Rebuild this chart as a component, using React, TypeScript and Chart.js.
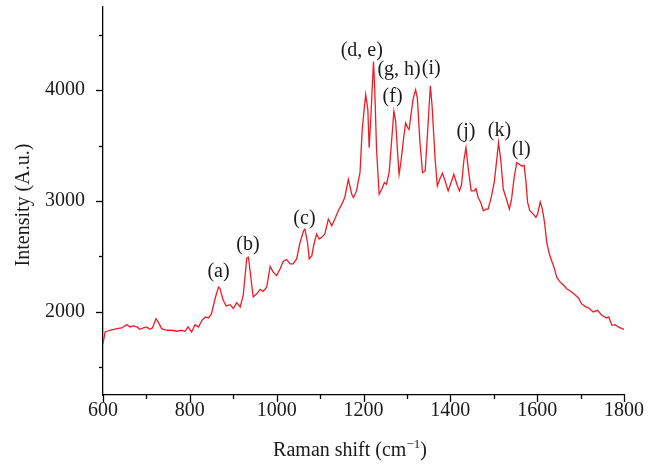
import React, { useEffect, useRef } from "react";
import { Chart, registerables } from "chart.js";

Chart.register(...registerables);

// Raman shift (cm^-1)
const ramanShift = [
  600, 605, 616, 632, 643, 655, 662, 670, 678, 685, 693, 701, 707, 714, 722, 727, 735, 747, 758, 770,
  781, 789, 796, 804, 812, 820, 828, 836, 843, 850, 858, 866, 869, 877, 884, 893, 900, 908, 916, 923,
  931, 935, 940, 946, 954, 962, 969, 977, 985, 992, 1000, 1008, 1015, 1023, 1031, 1038, 1046, 1054, 1062, 1065,
  1071, 1075, 1081, 1086, 1092, 1098, 1104, 1111, 1119, 1127, 1134, 1142, 1150, 1157, 1165, 1173, 1177, 1184, 1188, 1192,
  1197, 1205, 1210, 1213, 1217, 1223, 1226, 1230, 1236, 1242, 1248, 1253, 1259, 1265, 1270, 1274, 1279, 1282, 1286, 1292,
  1297, 1302, 1305, 1309, 1314, 1320, 1324, 1330, 1336, 1342, 1348, 1354, 1358, 1365, 1370, 1376, 1382, 1388, 1395, 1403,
  1408, 1415, 1421, 1426, 1431, 1436, 1441, 1448, 1455, 1459, 1464, 1470, 1476, 1482, 1487, 1495, 1501, 1507, 1511, 1516,
  1522, 1528, 1536, 1541, 1547, 1553, 1559, 1564, 1570, 1574, 1578, 1583, 1591, 1597, 1601, 1607, 1612, 1617, 1622, 1627,
  1633, 1640, 1645, 1653, 1660, 1668, 1678, 1687, 1695, 1702, 1710, 1719, 1729, 1739, 1749, 1760, 1765, 1772, 1779, 1787,
  1795, 1800,
];

// Intensity (A.u.)
const intensity = [
  1714, 1819, 1834, 1849, 1855, 1885, 1864, 1873, 1864, 1843, 1855, 1864, 1843, 1855, 1939, 1909, 1849, 1834, 1834, 1825,
  1834, 1825, 1864, 1819, 1885, 1864, 1924, 1954, 1945, 1984, 2118, 2223, 2214, 2103, 2053, 2065, 2029, 2083, 2044, 2148,
  2484, 2493, 2328, 2134, 2163, 2202, 2184, 2223, 2410, 2358, 2328, 2388, 2454, 2472, 2433, 2433, 2478, 2628, 2732, 2747,
  2628, 2478, 2507, 2612, 2702, 2657, 2672, 2702, 2837, 2777, 2837, 2912, 2972, 3032, 3196, 3061, 3032, 3091, 3181, 3256,
  3645, 3960, 3825, 3481, 3765, 4259, 4004, 3466, 3061, 3106, 3166, 3151, 3256, 3555, 3810, 3720, 3405, 3241, 3346, 3555,
  3705, 3660, 3645, 3765, 3915, 4004, 3930, 3526, 3256, 3271, 3645, 4040, 3855, 3376, 3136, 3200, 3250, 3181, 3091, 3181,
  3241, 3151, 3091, 3151, 3361, 3481, 3301, 3091, 3091, 3113, 3032, 2987, 2912, 2927, 2927, 3046, 3166, 3376, 3526, 3376,
  3106, 3032, 2927, 3017, 3211, 3346, 3331, 3316, 3322, 3181, 2987, 2912, 2882, 2852, 2882, 2992, 2927, 2807, 2628, 2538,
  2463, 2388, 2313, 2268, 2244, 2208, 2184, 2154, 2125, 2074, 2050, 2035, 1999, 2014, 1969, 1945, 1954, 1879, 1885, 1864,
  1849, 1843,
];

// Peak annotation labels and their anchor (data coordinates)
const peakLabels = ["(a)", "(b)", "(c)", "(d, e)", "(f)", "(g, h)", "(i)", "(j)", "(k)", "(l)"];
const peakLabelX = [866, 934, 1064, 1196, 1267, 1282, 1356, 1436, 1513, 1563];
const peakLabelY = [2365, 2605, 2837, 4359, 3942, 4184, 4193, 3627, 3636, 3461];

// Axis ranges and ticks
const xMin = 600;
const xMax = 1800;
const xTickValues = [600, 700, 800, 900, 1000, 1100, 1200, 1300, 1400, 1500, 1600, 1700, 1800];
const xLabelValues = [600, 800, 1000, 1200, 1400, 1600, 1800];
const yMin = 1250;
const yMax = 4750;
const yTickValues = [1500, 2000, 2500, 3000, 3500, 4000, 4500];
const yLabelValues = [2000, 3000, 4000];

const FONT = '"Liberation Serif", "Times New Roman", serif';
const TEXT = "#1a1a1a";

export default function App() {
  const canvasRef = useRef<HTMLCanvasElement | null>(null);

  useEffect(() => {
    const canvas = canvasRef.current;
    if (!canvas) return;

    const points = ramanShift.map((x, i) => ({ x, y: intensity[i] }));

    const overlay = {
      id: "overlay",
      afterDraw(chart: any) {
        const ctx = chart.ctx as CanvasRenderingContext2D;
        const xs = chart.scales.x;
        const ys = chart.scales.y;
        const area = chart.chartArea;
        ctx.save();
        ctx.strokeStyle = "#000";
        ctx.lineWidth = 1.3;
        xTickValues.forEach((v) => {
          const px = Math.round(xs.getPixelForValue(v)) + 0.5;
          const len = xLabelValues.includes(v) ? 7 : 4;
          ctx.beginPath();
          ctx.moveTo(px, area.bottom);
          ctx.lineTo(px, area.bottom + len);
          ctx.stroke();
        });
        yTickValues.forEach((v) => {
          const py = Math.round(ys.getPixelForValue(v)) + 0.5;
          const len = yLabelValues.includes(v) ? 7 : 4;
          ctx.beginPath();
          ctx.moveTo(area.left - len, py);
          ctx.lineTo(area.left, py);
          ctx.stroke();
        });

        ctx.fillStyle = TEXT;
        // y title
        ctx.save();
        ctx.font = `20px ${FONT}`;
        ctx.translate(24, (area.top + area.bottom) / 2 + 4);
        ctx.rotate(-Math.PI / 2);
        ctx.textAlign = "center";
        ctx.textBaseline = "middle";
        ctx.fillText("Intensity (A.u.)", 0, 0);
        ctx.restore();

        // x title with superscript
        const main = "Raman shift (cm";
        const sup = "\u22121";
        const close = ")";
        ctx.font = `20px ${FONT}`;
        const wMain = ctx.measureText(main).width;
        const wClose = ctx.measureText(close).width;
        ctx.font = `13px ${FONT}`;
        const wSup = ctx.measureText(sup).width;
        const total = wMain + wSup + wClose;
        const cx = 350;
        const baseY = 456;
        const x0 = cx - total / 2;
        ctx.textAlign = "left";
        ctx.textBaseline = "alphabetic";
        ctx.font = `20px ${FONT}`;
        ctx.fillText(main, x0, baseY);
        ctx.font = `13px ${FONT}`;
        ctx.fillText(sup, x0 + wMain, baseY - 8);
        ctx.font = `20px ${FONT}`;
        ctx.fillText(close, x0 + wMain + wSup, baseY);

        // peak labels
        ctx.textAlign = "center";
        ctx.textBaseline = "middle";
        ctx.font = `20px ${FONT}`;
        peakLabels.forEach((lab, i) => {
          ctx.fillText(lab, xs.getPixelForValue(peakLabelX[i]), ys.getPixelForValue(peakLabelY[i]));
        });
        ctx.restore();
      },
    };

    const chart = new Chart(canvas, {
      type: "line",
      data: {
        datasets: [
          {
            data: points,
            borderColor: "#ee1c25",
            borderWidth: 1.3,
            pointRadius: 0,
            tension: 0,
            fill: false,
          },
        ],
      },
      options: {
        animation: false,
        responsive: false,
        devicePixelRatio: 1,
        parsing: false as any,
        layout: { padding: { left: 0, right: 34, top: 7, bottom: 0 } },
        plugins: { legend: { display: false }, tooltip: { enabled: false } },
        scales: {
          x: {
            type: "linear",
            min: xMin,
            max: xMax,
            border: { display: true, color: "#000", width: 1.3 },
            grid: { display: true, drawOnChartArea: false, drawTicks: true, tickLength: 7, color: "rgba(0,0,0,0)" },
            afterBuildTicks: (s: any) => {
              s.ticks = xLabelValues.map((v) => ({ value: v }));
            },
            ticks: {
              autoSkip: false,
              maxRotation: 0,
              padding: -3,
              color: TEXT,
              font: { family: FONT, size: 20 },
              callback: (v: any) => String(v),
            },
            afterFit: (s: any) => {
              s.height = 69;
              s.paddingLeft = 0;
              s.paddingRight = 0;
            },
          },
          y: {
            type: "linear",
            min: yMin,
            max: yMax,
            border: { display: true, color: "#000", width: 1.3 },
            grid: { display: true, drawOnChartArea: false, drawTicks: true, tickLength: 7, color: "rgba(0,0,0,0)" },
            afterBuildTicks: (s: any) => {
              s.ticks = yLabelValues.map((v) => ({ value: v }));
            },
            ticks: {
              autoSkip: false,
              padding: 11,
              color: TEXT,
              font: { family: FONT, size: 20 },
              callback: (v: any) => String(v),
            },
            afterFit: (s: any) => {
              s.width = 103;
              s.paddingTop = 0;
              s.paddingBottom = 0;
            },
          },
        },
      },
      plugins: [overlay],
    });

    return () => chart.destroy();
  }, []);

  return (
    <div style={{ position: "absolute", left: 0, top: 0, width: 658, height: 464, background: "#fff" }}>
      <canvas ref={canvasRef} width={658} height={464} style={{ display: "block", width: 658, height: 464 }} />
    </div>
  );
}
